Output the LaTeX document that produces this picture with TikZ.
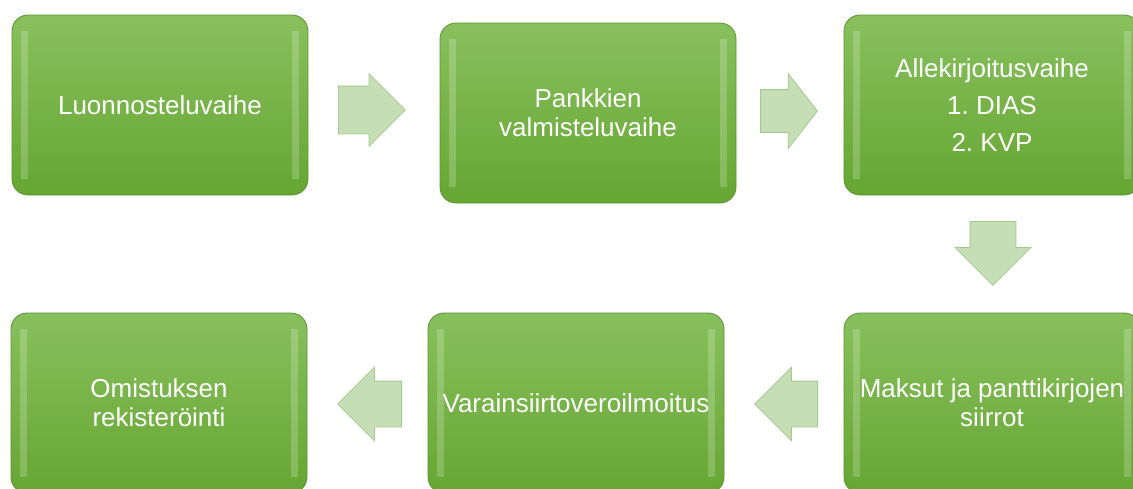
\documentclass[tikz,border=0pt]{standalone}
\usepackage{fontspec}
\setmainfont{Liberation Sans}
\usepackage{tikz}
\usetikzlibrary{shapes.arrows}
\frenchspacing

\definecolor{boxtop}{RGB}{136,192,94}
\definecolor{boxbottom}{RGB}{102,166,50}
\definecolor{boxline}{RGB}{92,146,48}
\definecolor{arrowfill}{RGB}{197,222,181}
\definecolor{arrowline}{RGB}{163,201,142}

\tikzset{
  phase/.style={rectangle, rounded corners=16pt, minimum width=296pt, minimum height=180pt,
    top color=boxtop, bottom color=boxbottom, draw=boxline, line width=0.8pt,
    text=white, align=center, font=\fontsize{26}{29}\selectfont,
    path picture={
      \fill [sharp corners, white, opacity=0.2] ([xshift=9pt, yshift=-16pt]path picture bounding box.north west)
        rectangle ([xshift=16pt, yshift=16pt]path picture bounding box.south west);
      \fill [sharp corners, white, opacity=0.2] ([xshift=-16pt, yshift=-16pt]path picture bounding box.north east)
        rectangle ([xshift=-9pt, yshift=16pt]path picture bounding box.south east);
    }},
  flow/.style={single arrow, anchor=tail, inner xsep=0pt, single arrow head indent=0pt,
    fill=arrowfill, draw=arrowline, line width=0.8pt}
}

\begin{document}
\begin{tikzpicture}[x=1pt, y=-1pt]

\useasboundingbox (0, 0) rectangle (1133, 488);

\node [phase] (draft) at (160, 105) {Luonnosteluvaihe};
\node [phase] (banks) at (588, 113) {Pankkien\\valmisteluvaihe};
\node [phase] (sign) at (992, 105) {Allekirjoitusvaihe\\[8pt]1. DIAS\\[8pt]2. KVP};
\node [phase] (pay) at (992, 403) {Maksut ja panttikirjojen\\siirrot};
\node [phase] (tax) at (576, 403) {Varainsiirtoveroilmoitus};
\node [phase] (register) at (159, 403) {Omistuksen\\rekisteröinti};

% block arrows, placed by their tail
\node [flow, minimum height=67pt, inner ysep=23.5pt, single arrow head extend=12.5pt] (draft-banks) at (338, 110) {};
\node [flow, minimum height=57pt, inner ysep=21pt, single arrow head extend=16pt, single arrow tip angle=104] (banks-sign) at (760, 111) {};
\node [flow, minimum height=64pt, inner ysep=22.5pt, single arrow head extend=15pt, rotate=-90] (sign-pay) at (993, 221) {};
\node [flow, minimum height=63pt, inner ysep=22.5pt, single arrow head extend=14pt, shape border rotate=180] (pay-tax) at (818, 404) {};
\node [flow, minimum height=64pt, inner ysep=22.5pt, single arrow head extend=14pt, shape border rotate=180] (tax-register) at (402, 404) {};

\end{tikzpicture}
\end{document}
